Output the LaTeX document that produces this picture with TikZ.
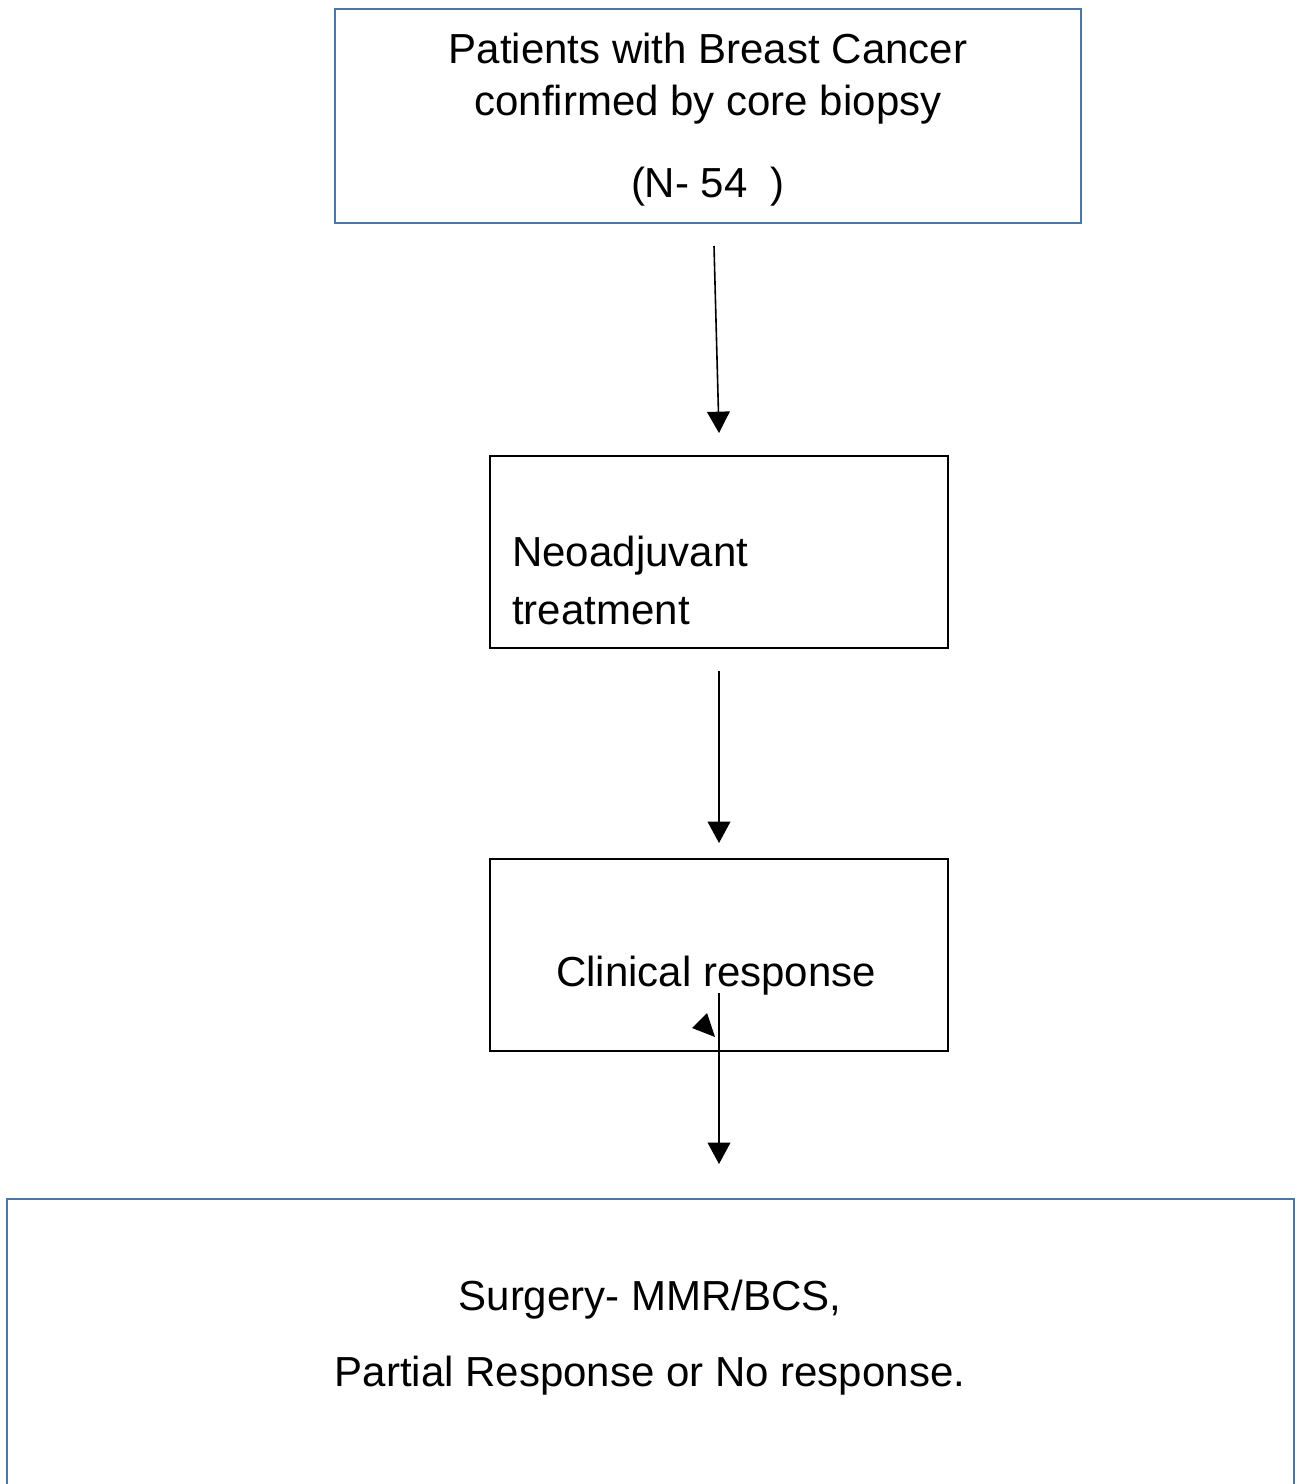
\documentclass[tikz,border=0pt]{standalone}
\usepackage{fontspec}
\setmainfont{Liberation Sans}
\usetikzlibrary{arrows.meta}
\definecolor{boxblue}{HTML}{4A77A6}
\begin{document}
\begin{tikzpicture}[x=0.75pt,y=-0.75pt,
  bluebox/.style={draw=boxblue,line width=1.6pt,inner sep=0pt},
  blackbox/.style={draw=black,line width=1.1pt,inner sep=0pt},
  txt/.style={inner sep=0pt,font=\fontsize{31.5}{42}\selectfont},
  conn/.style={line width=1.2pt,-{Triangle[length=16pt,width=17pt]}}]
\useasboundingbox (0,0) rectangle (1296,1484);
\clip (0,0) rectangle (1296,1484);
% boxes
\node[bluebox,minimum width=746*0.75pt,minimum height=214*0.75pt] (top) at (708,116) {};
\node[blackbox,minimum width=458*0.75pt,minimum height=192*0.75pt] (neo) at (719,552) {};
\node[blackbox,minimum width=458*0.75pt,minimum height=192*0.75pt] (clin) at (719,955) {};
\node[bluebox,line width=2.2pt,minimum width=1287*0.75pt,minimum height=320*0.75pt] (surg) at (650.5,1359) {};
% texts
\node[txt] (t1) at (708,48) {Patients with Breast Cancer};
\node[txt] (t2) at (708,105) {confirmed by core biopsy};
\node[txt] (t3) at (708,187) {(N- 54\ \ )};
\node[txt,anchor=west] (n1) at (512,556) {Neoadjuvant};
\node[txt,anchor=west] (n2) at (512,611) {treatment};
\node[txt] (c1) at (716,976) {Clinical response};
\node[txt] (s1) at (650,1300) {Surgery- MMR/BCS,};
\node[txt] (s2) at (650,1376) {Partial Response or No response.};
% connectors
\coordinate (a1s) at (714,246);
\coordinate (a1e) at (719,433);
\coordinate (a2s) at (719,671);
\coordinate (a2e) at (719,843);
\coordinate (a3s) at (719,993);
\coordinate (a3e) at (719,1164);
\draw[conn] (a1s) -- (a1e);
\draw[conn] (a2s) -- (a2e);
\draw[conn] (a3s) -- (a3e);
% stray arrowhead
\fill (707,1013) -- (692,1028) -- (715,1037) -- cycle;
\end{tikzpicture}
\end{document}
